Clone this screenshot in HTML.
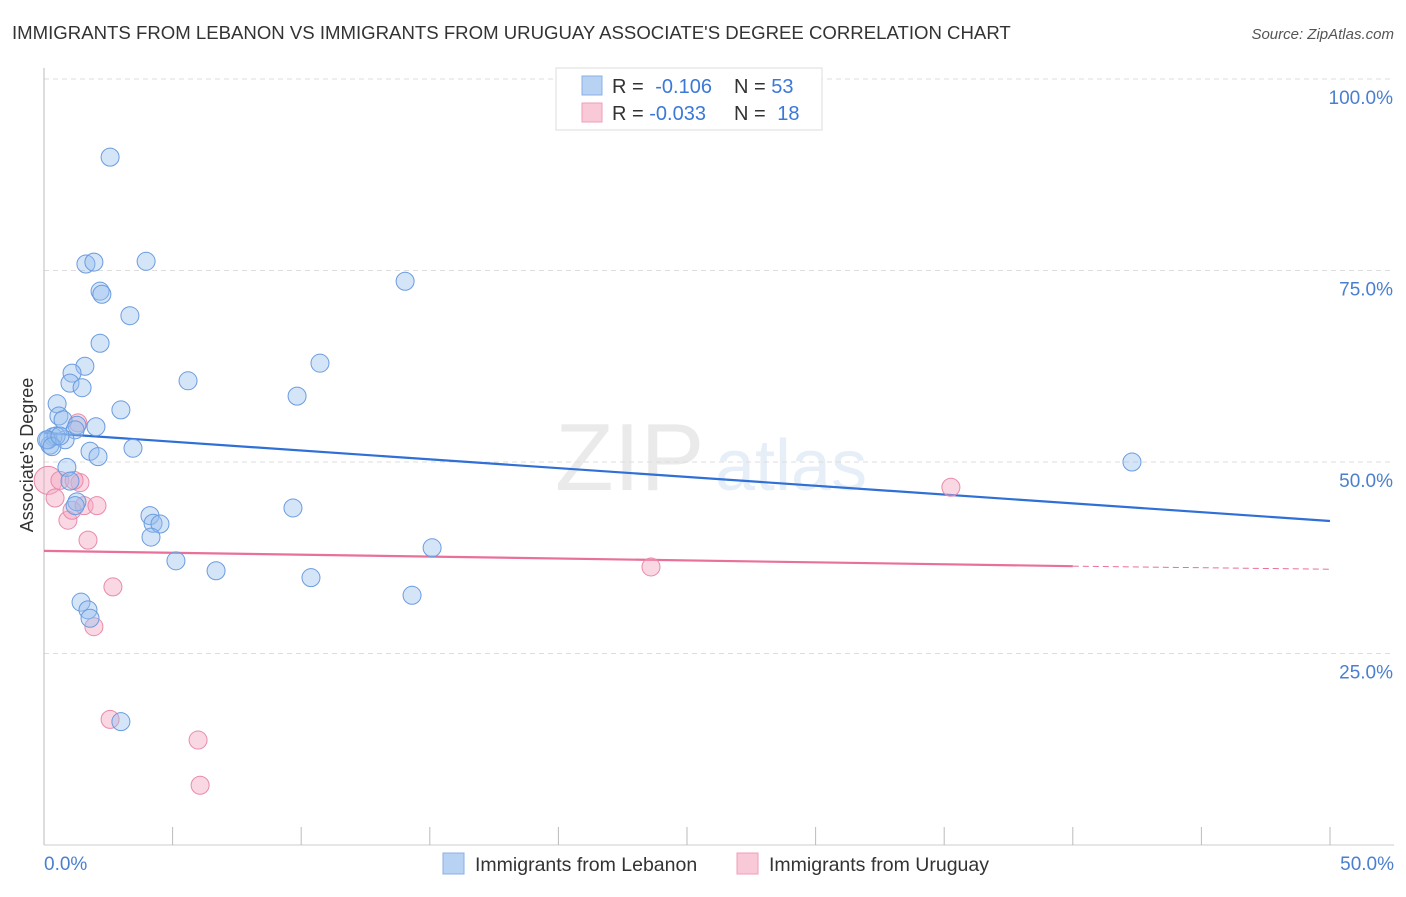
<!DOCTYPE html>
<html><head><meta charset="utf-8"><style>
body{margin:0;background:#fff;font-family:"Liberation Sans",sans-serif}
svg text{font-family:"Liberation Sans",sans-serif}
</style></head><body>
<svg id="chart" width="1406" height="892" viewBox="0 0 1406 892" xmlns="http://www.w3.org/2000/svg">
<text x="12" y="39" font-size="18.6" fill="#333">IMMIGRANTS FROM LEBANON VS IMMIGRANTS FROM URUGUAY ASSOCIATE'S DEGREE CORRELATION CHART</text>
<text x="1394" y="39" font-size="15" fill="#555" font-style="italic" text-anchor="end">Source: ZipAtlas.com</text>
<g opacity="0.13">
<text x="555" y="490" font-size="96" font-family="Liberation Serif" fill="#666">ZIP</text>
<text x="715" y="490" font-size="72" fill="#4a7fcf">atlas</text>
</g>
<g id="grid"></g>
<line x1="44" y1="68" x2="44" y2="845" stroke="#bbb"/>
<line x1="44" y1="845" x2="1394" y2="845" stroke="#ccc"/>
<g id="xticks"></g>
<text x="33" y="455" font-size="18" fill="#333" text-anchor="middle" transform="rotate(-90 33 455)">Associate's Degree</text>
<text x="44" y="870" font-size="19" fill="#4a7fcf">0.0%</text>
<text x="1394" y="870" font-size="19" fill="#4a7fcf" text-anchor="end">50.0%</text>
<g id="lines"></g>
<g id="points"></g>
<g>
<rect x="556" y="68" width="266" height="62" fill="#fff" stroke="#ddd"/>
<rect x="582" y="76" width="20" height="19" fill="#b8d2f3" stroke="#8ab0e6"/>
<rect x="582" y="103" width="20" height="19" fill="#f9c9d7" stroke="#ef9fb8"/>
<text x="612" y="93" font-size="20" fill="#333">R = <tspan fill="#3b78d8" dx="6">-0.106</tspan></text>
<text x="734" y="93" font-size="20" fill="#333">N = <tspan fill="#3b78d8">53</tspan></text>
<text x="612" y="120" font-size="20" fill="#333">R = <tspan fill="#3b78d8">-0.033</tspan></text>
<text x="734" y="120" font-size="20" fill="#333">N = <tspan fill="#3b78d8" dx="6">18</tspan></text>
</g>
<g>
<rect x="443" y="853" width="21" height="21" fill="#b8d2f3" stroke="#8ab0e6"/>
<text x="475" y="871" font-size="19.5" fill="#333">Immigrants from Lebanon</text>
<rect x="737" y="853" width="21" height="21" fill="#f9c9d7" stroke="#ef9fb8"/>
<text x="769" y="871" font-size="19.5" fill="#333">Immigrants from Uruguay</text>
</g>
</svg>
<script>
const yTicks=[25,50,75,100];
const yTickLabels=["25.0%","50.0%","75.0%","100.0%"];
const xTicks=[0,5,10,15,20,25,30,35,40,45,50];
const blueX=[2.57,1.63,1.94,3.97,14.04,2.18,2.25,3.34,2.18,10.73,1.59,1.09,1.01,1.48,5.60,9.84,2.99,0.51,0.58,0.74,1.28,2.02,1.21,0.82,0.35,0.23,0.16,0.47,1.79,2.10,3.46,0.89,1.01,1.28,1.21,4.12,4.24,4.51,4.16,9.68,15.09,5.13,6.69,10.38,1.44,1.71,1.79,14.31,2.99,42.30,0.1,0.31,0.62];
const blueY=[89.8,75.85,76.1,76.2,73.6,72.3,71.9,69.1,65.5,62.9,62.5,61.6,60.3,59.7,60.6,58.6,56.8,57.6,56.0,55.5,54.8,54.6,54.2,52.9,53.3,52.2,52.9,53.4,51.4,50.7,51.8,49.3,47.5,44.8,44.3,43.0,42.0,41.9,40.2,44.0,38.8,37.1,35.8,34.9,31.7,30.7,29.6,32.6,16.1,50.0,52.9,52.0,53.4];
const pinkX=[0.16,0.43,0.62,1.40,1.17,0.93,1.09,1.56,2.06,1.71,2.68,1.94,2.57,5.99,6.07,35.26,23.6,1.32];
const pinkY=[47.6,45.3,47.6,47.3,47.6,42.4,43.7,44.3,44.3,39.8,33.7,28.5,16.4,13.7,7.8,46.7,36.3,55.1];
const blueTrend=[[0,53.8],[50,42.3]];
const pinkTrend=[[0,38.4],[40,36.4],[50,36.0]];
const NS="http://www.w3.org/2000/svg";
const sx=v=>44+v*(1286/50);
const sy=v=>845-v*7.66;
function mk(tag,attrs,parent){const e=document.createElementNS(NS,tag);for(const k in attrs)e.setAttribute(k,attrs[k]);parent.appendChild(e);return e;}
const grid=document.getElementById('grid');
yTicks.forEach((t,i)=>{
 const l=mk('line',{x1:44,x2:1394,y1:sy(t),y2:sy(t),stroke:'#ddd','stroke-dasharray':'5,4'},grid);
 
 
 const tx=mk('text',{x:1393,y:sy(t)+25,'font-size':19,fill:'#4a7fcf','text-anchor':'end'},grid);
 tx.textContent=yTickLabels[i];
 
 
});
const xt=document.getElementById('xticks');
xTicks.forEach(t=>{
 const l=mk('line',{x1:sx(t),x2:sx(t),y1:827,y2:845,stroke:'#bbb'},xt);
 
 
});
const pts=document.getElementById('points');
pinkX.forEach((x,i)=>{
 const c=mk('circle',{cx:sx(x),cy:sy(pinkY[i]),r:i===0?14:9,fill:'rgba(244,168,192,0.45)',stroke:'#e98aaa','stroke-width':1},pts);
 
 
});
blueX.forEach((x,i)=>{
 const c=mk('circle',{cx:sx(x),cy:sy(blueY[i]),r:9,fill:'rgba(150,190,238,0.4)',stroke:'#6a9be0','stroke-width':1},pts);
 
 
});
const ln=document.getElementById('lines');
const b=mk('line',{x1:sx(blueTrend[0][0]),y1:sy(blueTrend[0][1]),x2:sx(blueTrend[1][0]),y2:sy(blueTrend[1][1]),stroke:'#2f6fd6','stroke-width':2.2},ln);


const p1=mk('line',{x1:sx(pinkTrend[0][0]),y1:sy(pinkTrend[0][1]),x2:sx(pinkTrend[1][0]),y2:sy(pinkTrend[1][1]),stroke:'#e8709a','stroke-width':2.2},ln);


const p2=mk('line',{x1:sx(pinkTrend[1][0]),y1:sy(pinkTrend[1][1]),x2:sx(pinkTrend[2][0]),y2:sy(pinkTrend[2][1]),stroke:'#e8709a','stroke-width':1,'stroke-dasharray':'6,4'},ln);


</script>
</body></html>
